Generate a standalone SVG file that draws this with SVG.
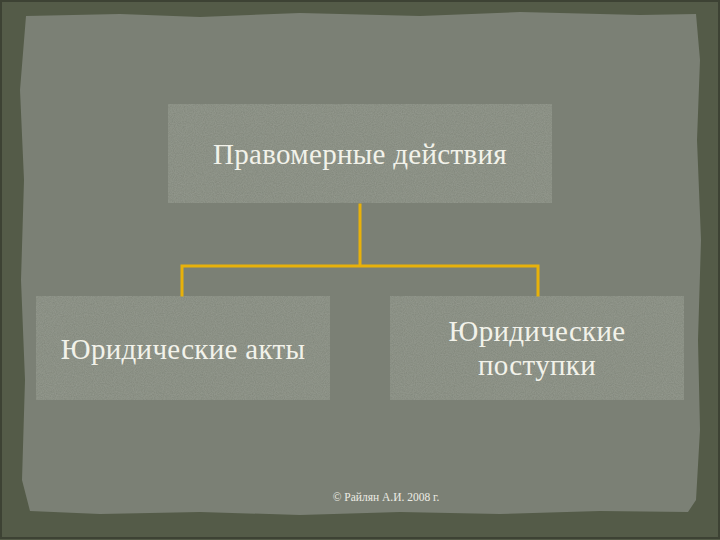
<svg xmlns="http://www.w3.org/2000/svg" width="720" height="540" viewBox="0 0 720 540">
<defs>
<filter id="grain" x="0" y="0" width="100%" height="100%">
<feTurbulence type="fractalNoise" baseFrequency="0.9" numOctaves="2" seed="3" result="n"/>
<feColorMatrix in="n" type="matrix" values="0 0 0 0 0.5  0 0 0 0 0.53  0 0 0 0 0.48  0 0 0 0.3 0" result="c"/>
<feComposite in="c" in2="SourceGraphic" operator="in" result="t"/>
<feMerge><feMergeNode in="SourceGraphic"/><feMergeNode in="t"/></feMerge>
</filter>
</defs>
<style>
.box{fill:#81867a;filter:url(#grain)}
.lbl{font-family:"Liberation Serif","DejaVu Serif",serif;font-size:29px;fill:#f2f2ea;text-anchor:middle;letter-spacing:0.3px}
.con{fill:none;stroke:#e8b10a;stroke-width:3;stroke-linecap:square}
</style>
<rect x="0" y="0" width="720" height="540" fill="#545b48"/>
<rect x="1" y="1" width="718" height="537" fill="none" stroke="#3d4234" stroke-width="2"/>
<path d="M26,16 L120,14 L200,17 L300,13 L420,16 L520,12 L640,15 L696,14 L700,60 L697,140 L701,240 L698,340 L700,430 L696,500 L688,512 L600,511 L500,514 L400,512 L300,515 L200,512 L100,514 L30,511 L22,480 L25,380 L21,280 L24,180 L20,90 Z" fill="#7b8075"/>
<g id="node-top"><rect class="box" x="168" y="104" width="384" height="99"/><text class="lbl" x="360" y="164">Правомерные действия</text></g>
<g id="node-left"><rect class="box" x="36" y="296" width="294" height="104"/><text class="lbl" x="183" y="359">Юридические акты</text></g>
<g id="node-right"><rect class="box" x="390" y="296" width="294" height="104"/><text class="lbl" x="537" y="341">Юридические</text><text class="lbl" x="537" y="375">поступки</text></g>
<g id="connectors">
<path class="con" d="M360,205 V266 M182,295 V266 H538 V295"/>
</g>
<text x="386" y="501" font-family="'Liberation Serif','DejaVu Serif',serif" font-size="11.5" fill="#ececE4" text-anchor="middle">© Райлян А.И. 2008 г.</text>
</svg>
